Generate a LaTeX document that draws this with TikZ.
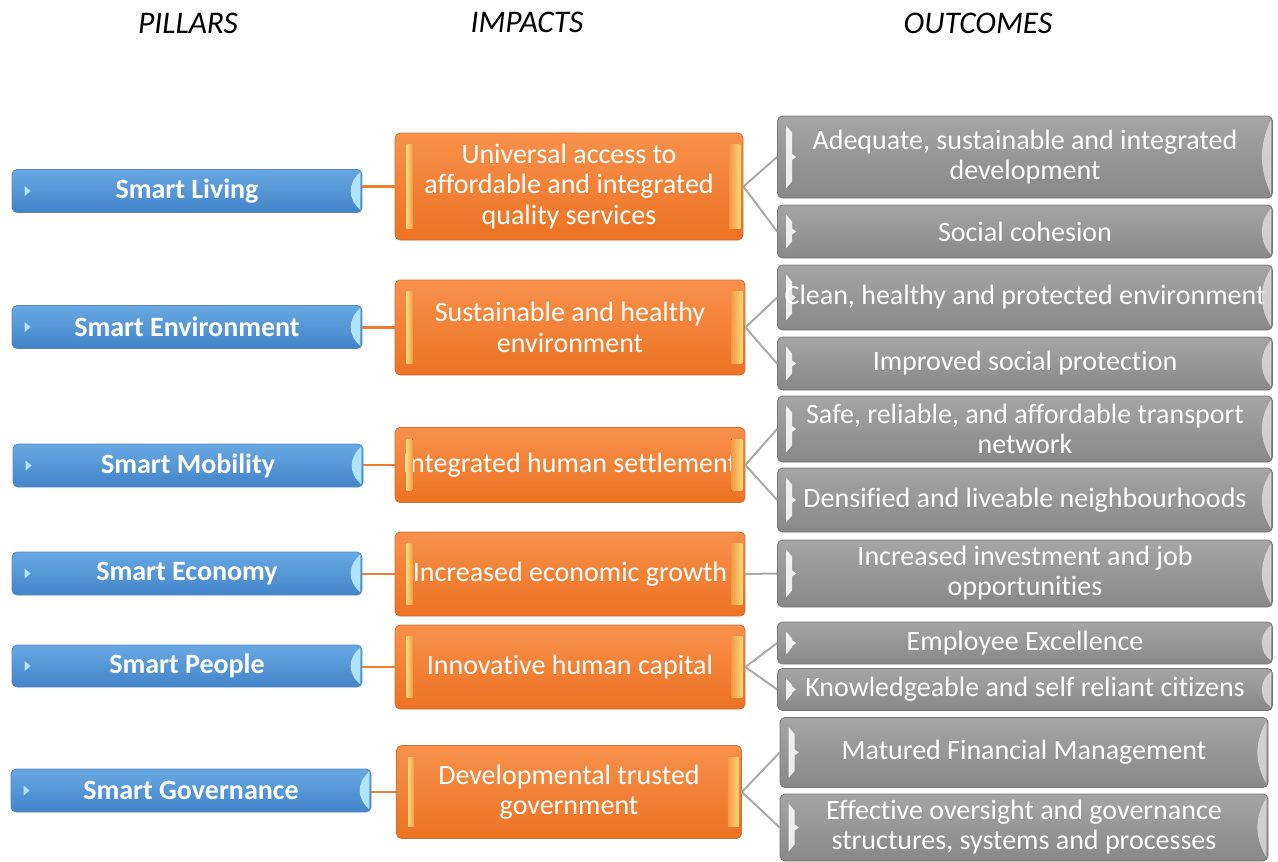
\documentclass[tikz,border=0pt]{standalone}
\usepackage{fontspec}
\setmainfont{Carlito}[Ligatures=NoCommon]
\usetikzlibrary{calc}
\definecolor{bluetop}{RGB}{104,168,226}
\definecolor{bluebot}{RGB}{66,132,200}
\definecolor{bluebd}{RGB}{85,135,190}
\definecolor{bluehl}{RGB}{175,228,250}
\definecolor{ortop}{RGB}{248,145,75}
\definecolor{orbot}{RGB}{236,114,34}
\definecolor{orbd}{RGB}{210,110,55}
\definecolor{oryel}{RGB}{255,214,120}
\definecolor{grtop}{RGB}{165,165,165}
\definecolor{grbot}{RGB}{136,136,136}
\definecolor{grbd}{RGB}{118,118,118}
\definecolor{grhl}{RGB}{222,222,222}
\definecolor{oline}{RGB}{237,125,49}
\definecolor{gline}{RGB}{170,170,170}
\tikzset{
  boxbase/.style={rounded corners=5, line width=0.8, text=white, align=center, inner xsep=0, inner ysep=0},
  pillar/.style={boxbase, draw=bluebd, top color=bluetop, bottom color=bluebot,
    font=\bfseries\fontsize{28}{30}\selectfont, minimum width=350, minimum height=43},
  impact/.style={boxbase, draw=orbd, top color=ortop, bottom color=orbot,
    font=\fontsize{28}{30.5}\selectfont, minimum width=350},
  outcome/.style={boxbase, draw=grbd, top color=grtop, bottom color=grbot,
    font=\fontsize{28}{30}\selectfont, minimum width=495},
  header/.style={font=\itshape\fontsize{31.5}{34}\selectfont, text=black},
  oconn/.style={draw=oline, line width=2.4},
  gconn/.style={draw=gline, line width=2}
}
\newcommand\bluedeco[1]{%
  \fill[bluehl] ($(#1.west)+(13,-5)$) -- ($(#1.west)+(19,0)$) -- ($(#1.west)+(13,5)$) -- cycle;
  \fill[bluehl] ($(#1.north east)+(-2,3)$) .. controls ($(#1.east)+(-15,-8)$) and ($(#1.east)+(-15,8)$) .. ($(#1.south east)+(-2,-3)$) -- cycle;
}
\newcommand\ordeco[1]{%
  \fill[left color=oryel, right color=orbot!60!oryel] ($(#1.north west)+(12,12)$) rectangle ($(#1.south west)+(18,-12)$);
  \fill[left color=orbot!60!oryel, right color=oryel] ($(#1.north east)+(-14,12)$) rectangle ($(#1.south east)+(-3,-12)$);
}
\newcommand\grdeco[1]{%
  \fill[white, opacity=0.85] ($(#1.north west)+(9,10)$) -- ($(#1.north west)+(15,17)$) -- ($(#1.west)+(15,-3)$) -- ($(#1.west)+(19,0)$) -- ($(#1.west)+(15,3)$) -- ($(#1.south west)+(15,-17)$) -- ($(#1.south west)+(9,-10)$) -- cycle;
  \fill[grhl, opacity=0.8] ($(#1.north east)+(-2,4)$) .. controls ($(#1.east)+(-14,-10)$) and ($(#1.east)+(-14,10)$) .. ($(#1.south east)+(-2,-4)$) -- cycle;
}
\begin{document}
\begin{tikzpicture}[x=1pt,y=-1pt]
\useasboundingbox (0,0) rectangle (1278,862);
% headers
\node[header] (h1) at (188,23) {PILLARS};
\node[header] (h2) at (527,22) {IMPACTS};
\node[header] (h3) at (978,23) {OUTCOMES};
% pillars
\node[pillar] (p1) at (187,191) {Smart Living};
\node[pillar] (p2) at (187,327) {Smart Environment};
\node[pillar] (p3) at (188,465.5) {Smart Mobility};
\node[pillar] (p4) at (187,573.5) {Smart Economy};
\node[pillar, minimum height=42] (p5) at (187,666) {Smart People};
\node[pillar, minimum width=360] (p6) at (191,790.5) {Smart Governance};
% impacts
\node[impact, minimum width=348, minimum height=107] (i1) at (569,186.5) {Universal access to\\affordable and integrated\\quality services};
\node[impact, minimum height=95] (i2) at (570,327.5) {Sustainable and healthy\\environment};
\node[impact, minimum height=75] (i3) at (570,465) {Integrated human settlement};
\node[impact, minimum height=84] (i4) at (570,574) {Increased economic growth};
\node[impact, minimum height=84] (i5) at (570,667) {Innovative human capital};
\node[impact, minimum width=345, minimum height=93] (i6) at (569,792) {Developmental trusted\\government};
% outcomes
\node[outcome, minimum height=82] (o1) at (1025,157) {Adequate, sustainable and integrated\\development};
\node[outcome, minimum height=53] (o2) at (1025,231.5) {Social cohesion};
\node[outcome, minimum height=65] (o3) at (1025,297.5) {Clean, healthy and protected environment};
\node[outcome, minimum height=53] (o4) at (1025,363.5) {Improved social protection};
\node[outcome, minimum height=66] (o5) at (1025,429) {Safe, reliable, and affordable transport\\network};
\node[outcome, minimum height=64] (o6) at (1025,500) {Densified and liveable neighbourhoods};
\node[outcome, minimum height=67] (o7) at (1025,573.5) {Increased investment and job\\opportunities};
\node[outcome, minimum height=42] (o8) at (1025,643) {Employee Excellence};
\node[outcome, minimum height=42] (o9) at (1025,689.5) {Knowledgeable and self reliant citizens};
\node[outcome, minimum width=488, minimum height=70] (o10) at (1024,752.5) {Matured Financial Management};
\node[outcome, minimum width=488, minimum height=67] (o11) at (1024,827.5) {Effective oversight and governance\\structures, systems and processes};
% decorations
\foreach \n in {p1,p2,p3,p4,p5,p6}{\bluedeco{\n}}
\foreach \n in {i1,i2,i3,i4,i5,i6}{\ordeco{\n}}
\foreach \n in {o1,o2,o3,o4,o5,o6,o7,o8,o9,o10,o11}{\grdeco{\n}}
% connectors pillar -> impact
\foreach \p/\i in {p1/i1,p2/i2,p3/i3,p4/i4,p5/i5,p6/i6}{
  \draw[oconn] (\i.west -| \p.east) -- (\i.west);
}
% connectors impact -> outcome
\foreach \i/\o in {i1/o1,i1/o2,i2/o3,i2/o4,i3/o5,i3/o6,i4/o7,i5/o8,i5/o9,i6/o10,i6/o11}{
  \draw[gconn] (\i.east) -- (\o.west);
}
\end{tikzpicture}
\end{document}
